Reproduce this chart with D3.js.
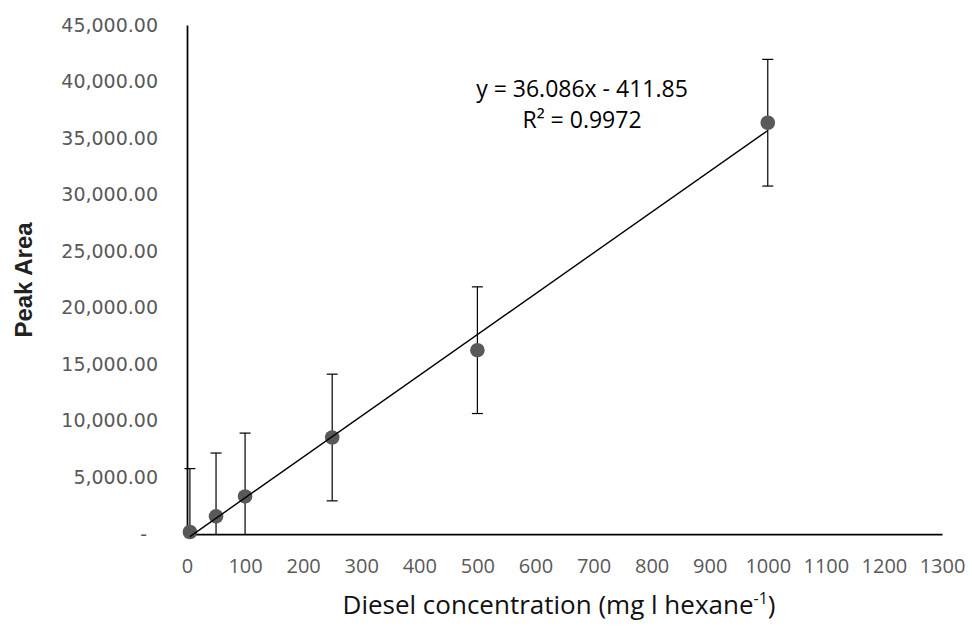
<!DOCTYPE html>
<html>
<head>
<meta charset="utf-8">
<script src="https://cdn.jsdelivr.net/npm/d3@7"></script>
<style>
  html, body { margin: 0; padding: 0; background: #fff; }
  #chart { width: 972px; height: 633px; }
</style>
</head>
<body>
<div id="chart"></div>
<script>
// concentration (mg l hexane-1), mean peak area, error bar half width
const concentrations = [5, 50, 100, 250, 500, 1000];
const peakAreas = [180, 1560, 3320, 8530, 16250, 36360];
const peakErrors = [5600, 5600, 5600, 5600, 5600, 5600];

// linear trendline as printed on the chart
const trendSlope = 36.086;
const trendIntercept = -411.85;
const equationLines = ["y = 36.086x - 411.85", "R\u00B2 = 0.9972"];

const xTickValues = [0, 100, 200, 300, 400, 500, 600, 700, 800, 900, 1000, 1100, 1200, 1300];
const yTickValues = [0, 5000, 10000, 15000, 20000, 25000, 30000, 35000, 40000, 45000];

(function () {
  const width = 972;
  const height = 633;
  const margin = { top: 25, right: 30, bottom: 99, left: 187 };

  const tickColor = "#595959";
  const markColor = "#595959";

  const points = concentrations.map(function (c, i) {
    return { x: c, y: peakAreas[i], err: peakErrors[i] };
  });

  const x = d3.scaleLinear()
    .domain([0, 1300])
    .range([margin.left, width - margin.right]);

  const y = d3.scaleLinear()
    .domain([0, 45000])
    .range([height - margin.bottom, margin.top]);

  const svg = d3.create("svg")
    .attr("width", width)
    .attr("height", height)
    .attr("viewBox", [0, 0, width, height]);

  svg.append("rect")
    .attr("width", width)
    .attr("height", height)
    .attr("fill", "#fff");

  // axes
  const yFormat = d3.format(",.2f");
  const yAxis = svg.append("g")
    .attr("transform", `translate(${x(0)},0)`)
    .call(d3.axisLeft(y)
      .tickValues(yTickValues)
      .tickSize(0)
      .tickSizeOuter(0)
      .tickPadding(29)
      .tickFormat(function (d) { return d === 0 ? "-" : yFormat(d); }));

  yAxis.selectAll("text")
    .attr("font-family", "'DejaVu Sans', sans-serif")
    .attr("font-size", 19)
    .attr("fill", tickColor)
    .filter(function (d) { return d === 0; })
    .attr("x", -40);

  const xAxis = svg.append("g")
    .attr("transform", `translate(0,${y(0)})`)
    .call(d3.axisBottom(x)
      .tickValues(xTickValues)
      .tickSize(0)
      .tickSizeOuter(0)
      .tickPadding(25)
      .tickFormat(d3.format("d")));

  xAxis.selectAll("text")
    .attr("font-family", "'Open Sans', sans-serif")
    .attr("font-size", 20)
    .attr("fill", tickColor);

  svg.selectAll(".domain")
    .attr("stroke", "#000")
    .attr("stroke-width", 1.75);

  // error bars, clipped at the x axis
  const capHalf = 5.5;
  const bars = svg.append("g")
    .attr("stroke", "#000")
    .attr("stroke-width", 1.2)
    .selectAll("g")
    .data(points)
    .join("g");

  bars.append("line")
    .attr("x1", function (d) { return x(d.x); })
    .attr("x2", function (d) { return x(d.x); })
    .attr("y1", function (d) { return y(Math.max(0, d.y - d.err)); })
    .attr("y2", function (d) { return y(d.y + d.err); });

  bars.append("line")
    .attr("x1", function (d) { return x(d.x) - capHalf; })
    .attr("x2", function (d) { return x(d.x) + capHalf; })
    .attr("y1", function (d) { return y(d.y + d.err); })
    .attr("y2", function (d) { return y(d.y + d.err); });

  bars.filter(function (d) { return d.y - d.err > 0; })
    .append("line")
    .attr("x1", function (d) { return x(d.x) - capHalf; })
    .attr("x2", function (d) { return x(d.x) + capHalf; })
    .attr("y1", function (d) { return y(d.y - d.err); })
    .attr("y2", function (d) { return y(d.y - d.err); });

  // data points
  svg.append("g")
    .selectAll("circle")
    .data(points)
    .join("circle")
      .attr("cx", function (d) { return x(d.x); })
      .attr("cy", function (d) { return y(d.y); })
      .attr("r", 7.3)
      .attr("fill", markColor);

  // trendline over the data range
  const xExtent = d3.extent(concentrations);
  svg.append("line")
    .attr("x1", x(xExtent[0]))
    .attr("y1", y(trendSlope * xExtent[0] + trendIntercept))
    .attr("x2", x(xExtent[1]))
    .attr("y2", y(trendSlope * xExtent[1] + trendIntercept))
    .attr("stroke", "#000")
    .attr("stroke-width", 1.4);

  // equation label
  svg.append("text")
    .attr("font-family", "'Open Sans', sans-serif")
    .attr("font-size", 23)
    .attr("fill", "#000")
    .attr("text-anchor", "middle")
    .selectAll("tspan")
    .data(equationLines)
    .join("tspan")
      .attr("x", 582)
      .attr("y", function (d, i) { return 97 + i * 31; })
      .text(function (d) { return d; });

  // axis titles
  const xTitle = svg.append("text")
    .attr("x", 559)
    .attr("y", 614)
    .attr("text-anchor", "middle")
    .attr("font-family", "'Open Sans', sans-serif")
    .attr("font-weight", 500)
    .attr("font-size", 26)
    .attr("fill", "#111");
  xTitle.append("tspan").text("Diesel concentration (mg l hexane");
  xTitle.append("tspan").attr("font-size", 16).attr("dy", -10).text("-1");
  xTitle.append("tspan").attr("dy", 10).text(")");

  svg.append("text")
    .attr("transform", "translate(32,280) rotate(-90)")
    .attr("text-anchor", "middle")
    .attr("font-family", "'Liberation Sans', Arial, sans-serif")
    .attr("font-weight", "bold")
    .attr("font-size", 24)
    .attr("fill", "#222")
    .text("Peak Area");

  d3.select("#chart")
    .node()
    .appendChild(svg.node());
})();
</script>
</body>
</html>
